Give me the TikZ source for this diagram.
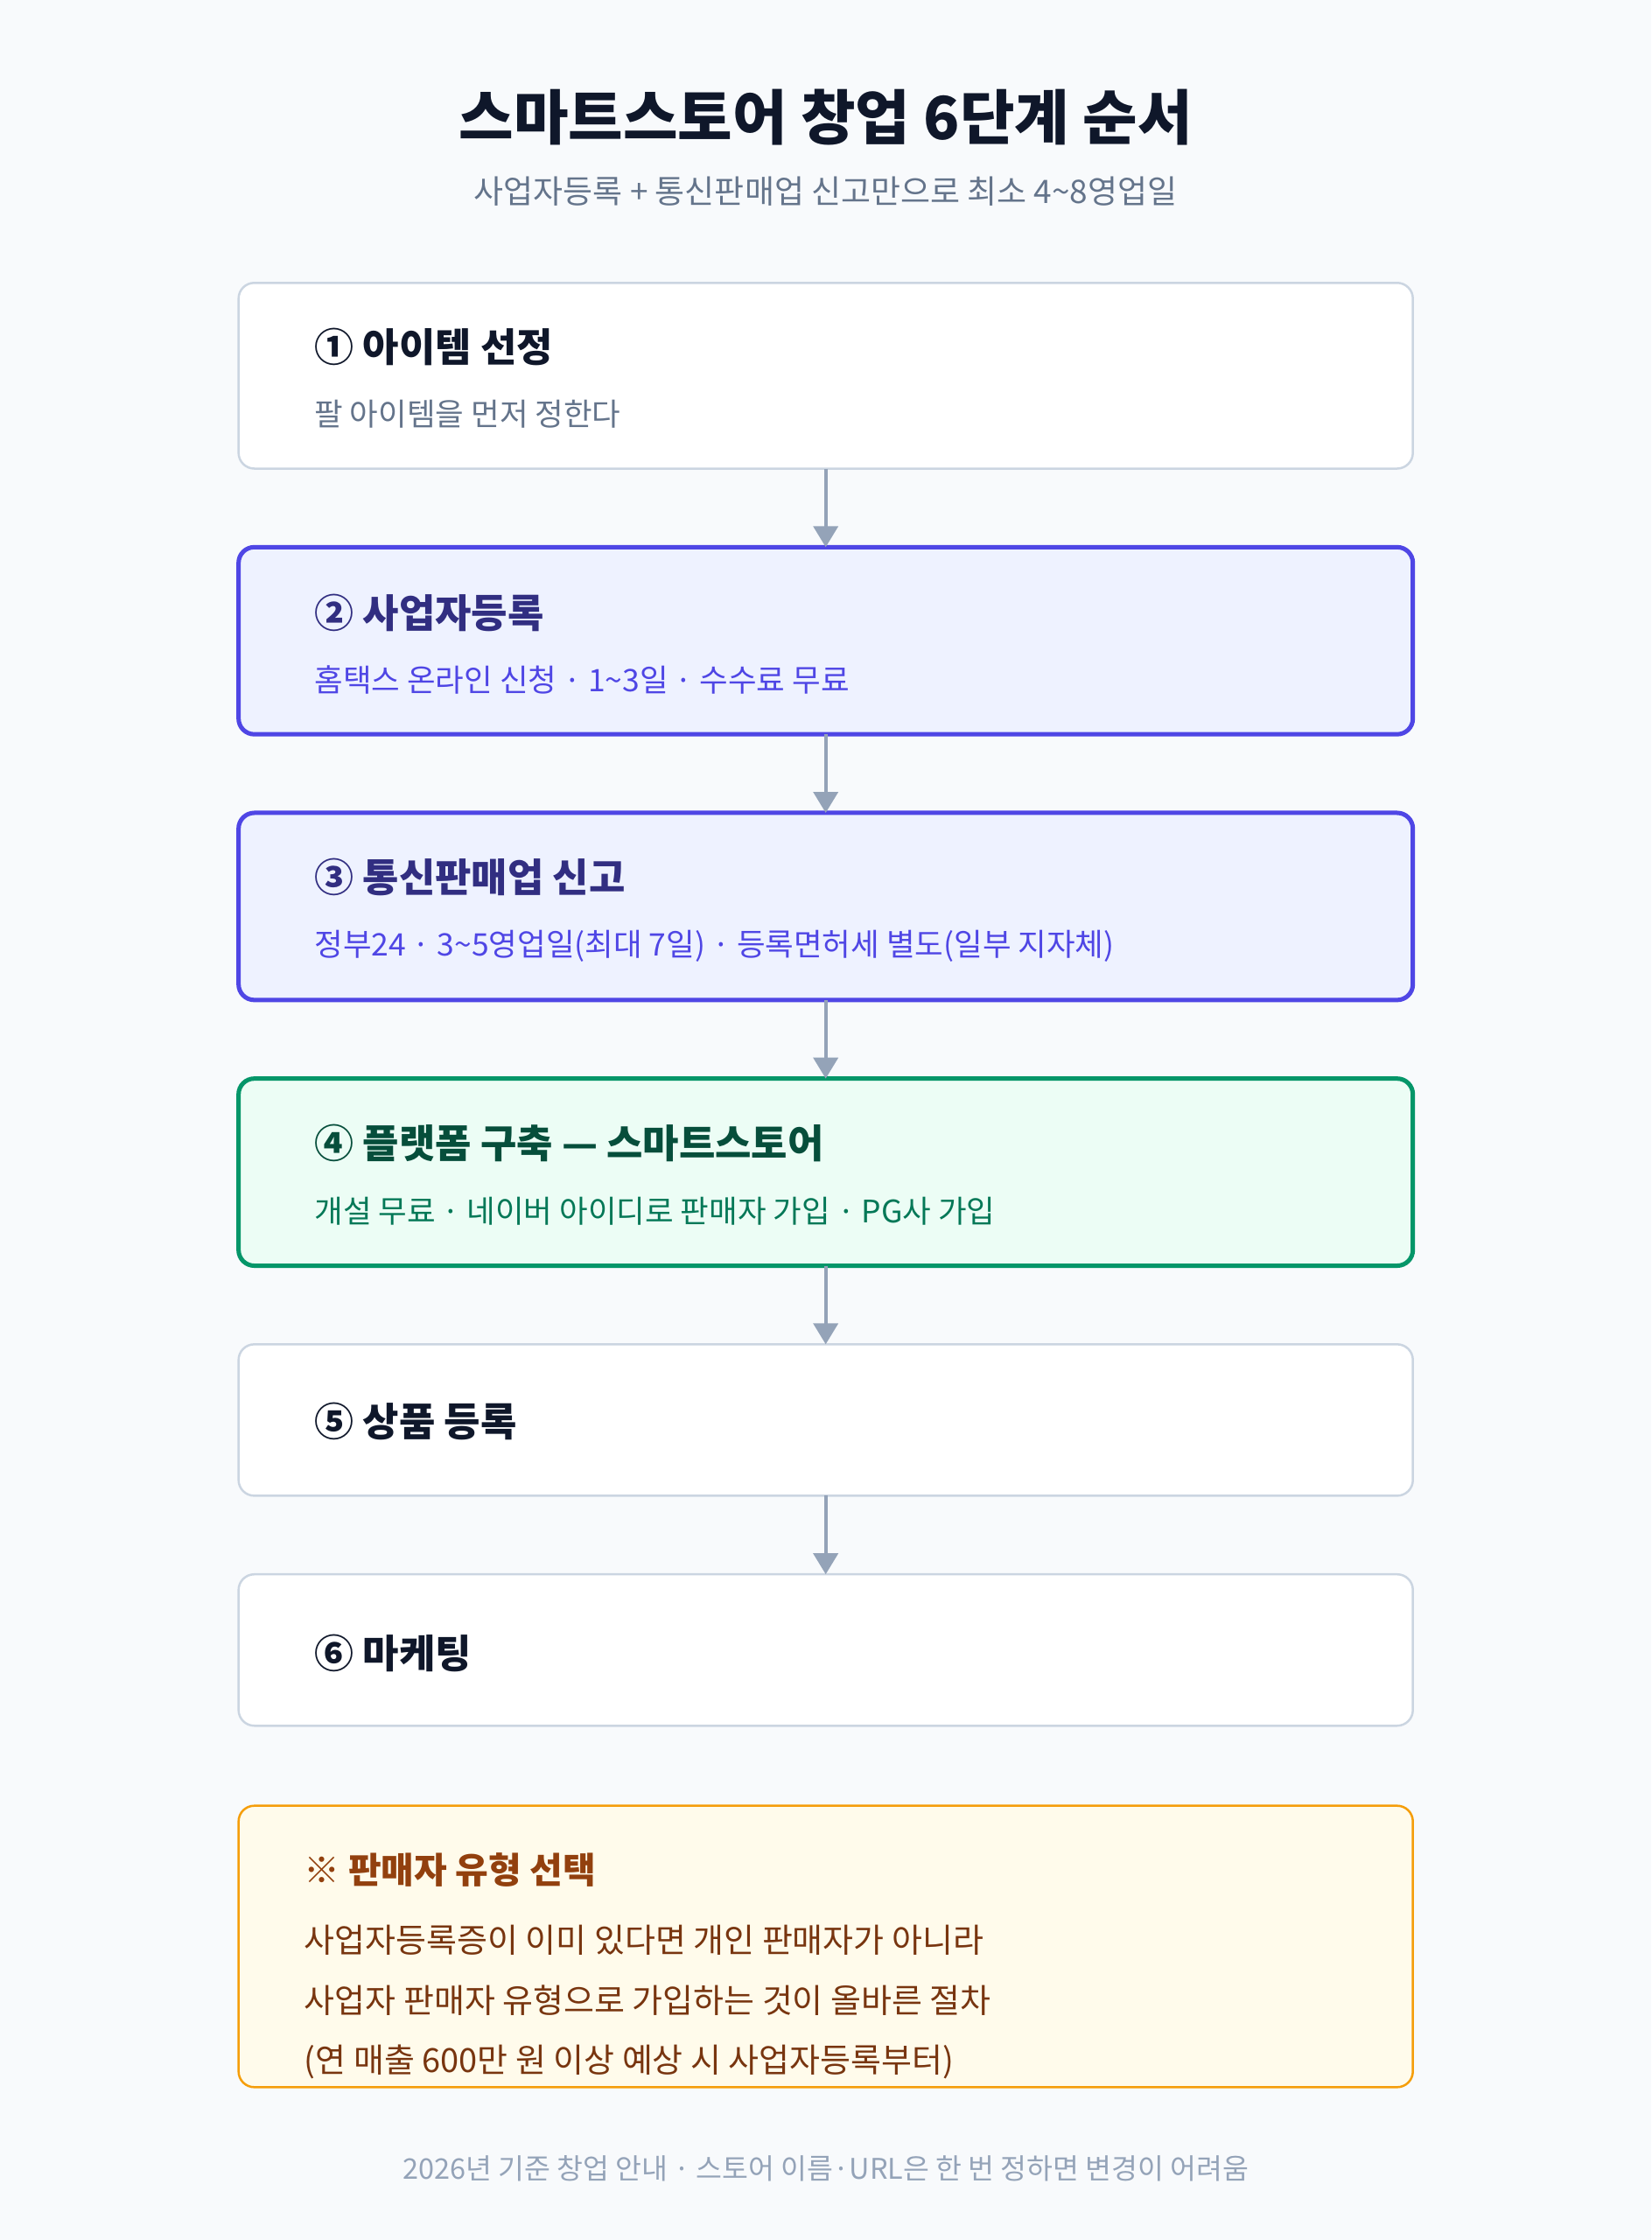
\documentclass[tikz,border=0pt]{standalone}
\usepackage{fontspec}
\setmainfont{Noto Sans CJK KR}
\definecolor{bg}{HTML}{F8FAFC}
\definecolor{gline}{HTML}{CBD5E1}
\definecolor{arr}{HTML}{94A3B8}
\definecolor{ink}{HTML}{0F172A}
\definecolor{sub}{HTML}{64748B}
\definecolor{bfill}{HTML}{EEF2FF}
\definecolor{bline}{HTML}{4F46E5}
\definecolor{bhead}{HTML}{312E81}
\definecolor{gfill}{HTML}{ECFDF5}
\definecolor{grline}{HTML}{059669}
\definecolor{ghead}{HTML}{064E3B}
\definecolor{gsub}{HTML}{047857}
\definecolor{yfill}{HTML}{FFFBEB}
\definecolor{yline}{HTML}{F59E0B}
\definecolor{yhead}{HTML}{92400E}
\definecolor{ytext}{HTML}{78350F}
\begin{document}
\begin{tikzpicture}[x=1.634pt,y=-1.634pt,
  box/.style={rounded corners=18pt,line width=2.5pt,draw=gline,fill=white},
  bbox/.style={box,draw=bline,fill=bfill,line width=5pt},
  gbox/.style={box,draw=grline,fill=gfill,line width=5pt},
  head/.style={anchor=west,inner sep=0,font=\fontsize{45}{52}\selectfont\bfseries,text=ink},
  subt/.style={anchor=west,inner sep=0,font=\fontsize{35.5}{42}\selectfont,text=sub},
  note/.style={subt,text=ytext,font=\fontsize{38}{44}\selectfont},
  ar/.style={draw=arr,line width=4pt,-{Triangle[length=24pt,width=28pt]}}]
\usetikzlibrary{arrows.meta}
\fill[bg] (0,0) rectangle (1156,1568);
\node[inner sep=0,font=\fontsize{68}{76}\selectfont\bfseries,text=ink] (t) at (578,82) {스마트스토어 창업 6단계 순서};
\node[inner sep=0,font=\fontsize{37}{44}\selectfont,text=sub] (st) at (578,134) {사업자등록 + 통신판매업 신고만으로 최소 4\textasciitilde8영업일};
\draw[box] (167,198) rectangle (989,328);
\coordinate (b1) at (578,328);
\node[head] (h1) at (220,243) {① 아이템 선정};
\node[subt] (s1) at (220,290) {팔 아이템을 먼저 정한다};
\draw[bbox] (167,383) rectangle (989,514);
\coordinate (t2) at (578,383); \coordinate (b2) at (578,514);
\node[head,text=bhead] (h2) at (220,429) {② 사업자등록};
\node[subt,text=bline] (s2) at (220,476) {홈택스 온라인 신청 · 1\textasciitilde3일 · 수수료 무료};
\draw[bbox] (167,569) rectangle (989,700);
\coordinate (t3) at (578,569); \coordinate (b3) at (578,700);
\node[head,text=bhead] (h3) at (220,614) {③ 통신판매업 신고};
\node[subt,text=bline] (s3) at (220,662) {정부24 · 3\textasciitilde5영업일(최대 7일) · 등록면허세 별도(일부 지자체)};
\draw[gbox] (167,755) rectangle (989,886);
\coordinate (t4) at (578,755); \coordinate (b4) at (578,886);
\node[head,text=ghead] (h4) at (220,800) {④ 플랫폼 구축 — 스마트스토어};
\node[subt,text=gsub] (s4) at (220,848) {개설 무료 · 네이버 아이디로 판매자 가입 · PG사 가입};
\draw[box] (167,941) rectangle (989,1047);
\coordinate (t5) at (578,941); \coordinate (b5) at (578,1047);
\node[head] (h5) at (220,995) {⑤ 상품 등록};
\draw[box] (167,1102) rectangle (989,1208);
\coordinate (t6) at (578,1102);
\node[head] (h6) at (220,1157) {⑥ 마케팅};
\draw[ar] (b1) -- (t2);
\draw[ar] (b2) -- (t3);
\draw[ar] (b3) -- (t4);
\draw[ar] (b4) -- (t5);
\draw[ar] (b5) -- (t6);
\draw[box,draw=yline,fill=yfill] (167,1264) rectangle (989,1461);
\node[head,text=yhead,font=\fontsize{41}{48}\selectfont\bfseries] (nh) at (213,1309) {※ 판매자 유형 선택};
\node[note] (n1) at (213,1358) {사업자등록증이 이미 있다면 개인 판매자가 아니라};
\node[note] (n2) at (213,1400) {사업자 판매자 유형으로 가입하는 것이 올바른 절차};
\node[note] (n3) at (213,1443) {(연 매출 600만 원 이상 예상 시 사업자등록부터)};
\node[inner sep=0,font=\fontsize{32.5}{38}\selectfont,text=arr] (ft) at (578,1518) {2026년 기준 창업 안내 · 스토어 이름·URL은 한 번 정하면 변경이 어려움};
\end{tikzpicture}
\end{document}
